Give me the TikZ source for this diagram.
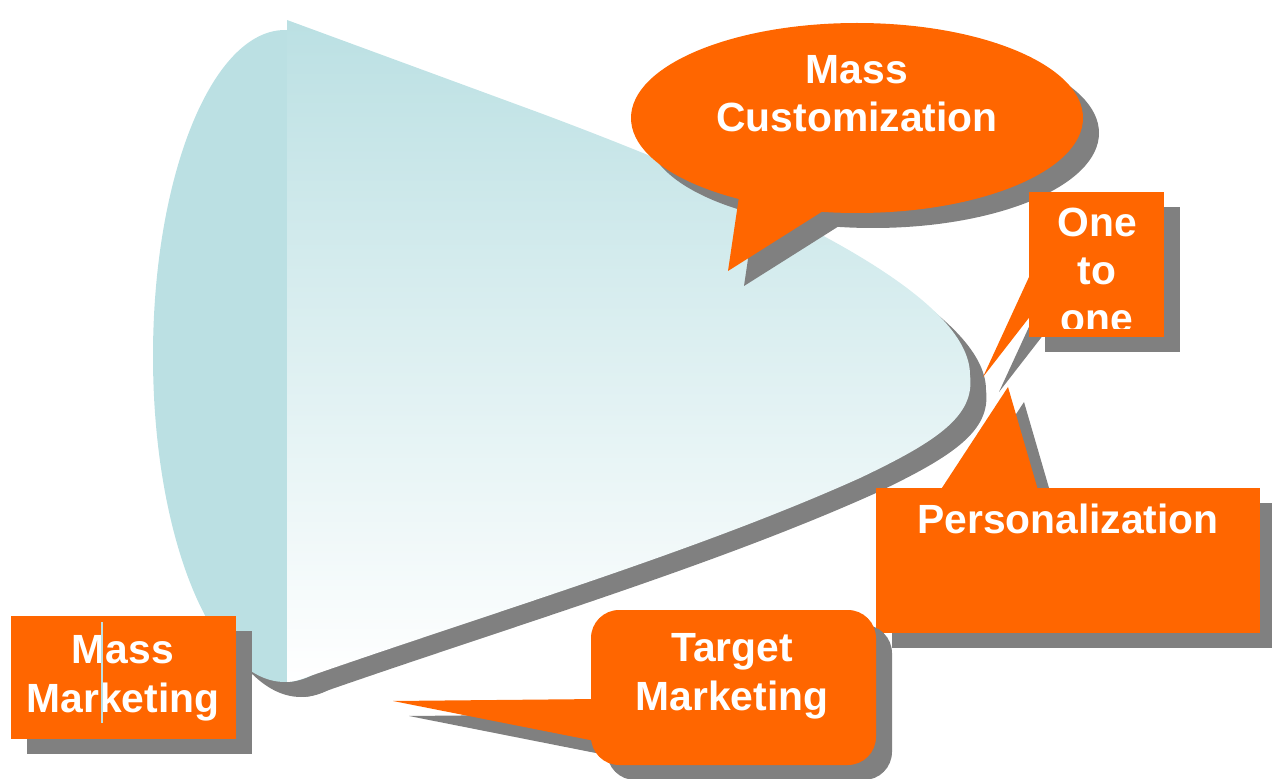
\documentclass[tikz,border=0pt]{standalone}
\usepackage{fontspec}
\setmainfont{Liberation Sans}

\definecolor{callorange}{HTML}{FF6600}
\definecolor{shadowgray}{HTML}{808080}
\definecolor{coneblue}{HTML}{BBE0E3}

\tikzset{
  calltext/.style={text=white, font=\fontsize{11.6}{13.7}\selectfont\bfseries,
    align=center, inner sep=0pt, anchor=base},
  dropshade/.style={shadowgray, shift={(16,15)}}
}

\begin{document}
\begin{tikzpicture}[x=0.01cm, y=-0.01cm]
    \useasboundingbox (0,0) rectangle (1272,779);

    % Cone shadow
    \fill[dropshade] (285,356) ellipse [x radius=132, y radius=326];
    \fill[dropshade] (287,20) -- (540,113) .. controls (800,210) and (970,300) .. (970,375)
        .. controls (975,415) and (940,440) .. (860,478)
        .. controls (700,550) and (500,610) .. (310,676)
        .. controls (300,680) and (292,682) .. (287,682) -- cycle;

    % Cone
    \fill[coneblue] (285,356) ellipse [x radius=132, y radius=326];
    \shade[top color=coneblue, bottom color=white] (287,20) -- (540,113)
        .. controls (800,210) and (970,300) .. (970,375)
        .. controls (975,415) and (940,440) .. (860,478)
        .. controls (700,550) and (500,610) .. (310,676)
        .. controls (300,680) and (292,682) .. (287,682) -- cycle;

    % Mass Customization bubble
    \fill[dropshade] (857,118) ellipse [x radius=226, y radius=95];
    \fill[dropshade] (740,190) -- (728,271) -- (831,206) -- cycle;
    \fill[callorange] (857,118) ellipse [x radius=226, y radius=95];
    \fill[callorange] (740,190) -- (728,271) -- (831,206) -- cycle;
    \node[calltext] (masscust) at (857,132) {Mass\\Customization};

    % One to one box
    \fill[dropshade] (1029,192) rectangle (1164,337);
    \fill[dropshade] (1035,264) -- (983,377) -- (1035,310) -- cycle;
    \fill[callorange] (1029,192) rectangle (1164,337);
    \fill[callorange] (1035,264) -- (983,377) -- (1035,310) -- cycle;
    \begin{scope}
        \clip (1029,192) rectangle (1164,329);
        \node[calltext] (onetoone) at (1097,333) {One\\to\\one};
    \end{scope}

    % Personalization box
    \fill[dropshade] (876,488) rectangle (1260,633);
    \fill[dropshade] (936,497) -- (1008,387) -- (1040,497) -- cycle;
    \fill[callorange] (876,488) rectangle (1260,633);
    \fill[callorange] (936,497) -- (1008,387) -- (1040,497) -- cycle;
    \node[calltext] (personal) at (1068,534) {Personalization};

    % Target Marketing box
    \fill[dropshade, rounded corners=8pt] (591,610) rectangle (876,765);
    \fill[dropshade] (600,699) -- (393,701) -- (600,742) -- cycle;
    \fill[callorange, rounded corners=8pt] (591,610) rectangle (876,765);
    \fill[callorange] (600,699) -- (393,701) -- (600,742) -- cycle;
    \node[calltext] (targetmkt) at (732,710) {Target\\Marketing};

    % Mass Marketing box
    \fill[dropshade] (11,616) rectangle (236,739);
    \fill[callorange] (11,616) rectangle (236,739);
    \node[calltext] (massmkt) at (123,712) {Mass\\Marketing};
    \draw[coneblue, line width=0.5pt] (102,622) -- (102,723);
\end{tikzpicture}
\end{document}
